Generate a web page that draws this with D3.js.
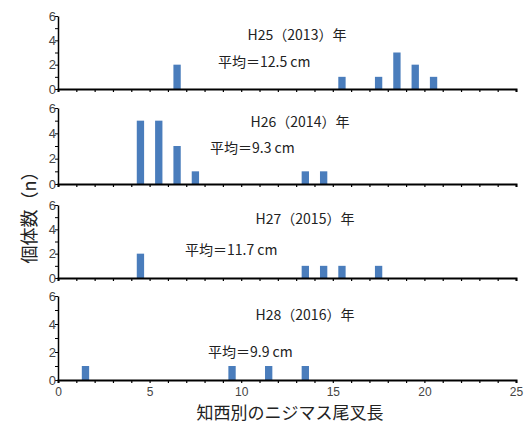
<!DOCTYPE html>
<html><head><meta charset="utf-8">
<script src="https://cdn.jsdelivr.net/npm/d3@7"></script>
<style>body{margin:0;background:#fff;} svg{display:block;font-family:"Noto Sans CJK JP","Noto Sans",sans-serif;}</style>
</head><body>
<svg id="c" width="526" height="423"></svg>
<script>
const years = ["H25（2013）年","H26（2014）年","H27（2015）年","H28（2016）年"];
const means = ["平均＝12.5 cm","平均＝9.3 cm","平均＝11.7 cm","平均＝9.9 cm"];
const lengths2013 = [6.5,15.5,17.5,18.5,19.5,20.5];
const counts2013  = [2,1,1,3,2,1];
const lengths2014 = [4.5,5.5,6.5,7.5,13.5,14.5];
const counts2014  = [5,5,3,1,1,1];
const lengths2015 = [4.5,13.5,14.5,15.5,17.5];
const counts2015  = [2,1,1,1,1];
const lengths2016 = [1.5,9.5,11.5,13.5];
const counts2016  = [1,1,1,1];
const xTicks = [0,5,10,15,20,25];
const yTicks = [0,2,4,6];
const xLabel = "知西別のニジマス尾叉長";
const yLabel = "個体数（n）";

const series = [[lengths2013,counts2013],[lengths2014,counts2014],[lengths2015,counts2015],[lengths2016,counts2016]];
const panels = [
  {top:16,bottom:89, tx:297, ty:40, mx:218, my:67},
  {top:108,bottom:184, tx:300, ty:127, mx:210, my:153},
  {top:205,bottom:278, tx:305, ty:224, mx:185, my:255},
  {top:296,bottom:380, tx:305, ty:320, mx:208, my:357}
];
const svg = d3.select("#c");
const x = d3.scaleLinear().domain([0,25]).range([58,516]);
const barW = x(0.4)-x(0);
const txtCol = "#444";

panels.forEach((p,i)=>{
  const y = d3.scaleLinear().domain([0,6]).range([p.bottom,p.top]);
  const g = svg.append("g");
  const [ls,cs] = series[i];
  g.selectAll("rect").data(ls.map((l,j)=>({l,c:cs[j]}))).join("rect")
    .attr("x",d=>x(d.l)-barW/2).attr("width",barW)
    .attr("y",d=>y(d.c)).attr("height",d=>y(0)-y(d.c))
    .attr("fill","#4a7dbc");
  const xa = g.append("g").attr("transform",`translate(0,${p.bottom})`)
    .call(d3.axisBottom(x).ticks(25).tickSize(3).tickFormat(i===3? (d=> xTicks.includes(d)? d : "") : ""));
  xa.select(".domain").attr("stroke","#000").attr("stroke-width",2);
  xa.selectAll(".tick line").attr("stroke","#000").attr("stroke-width",1.2);
  xa.selectAll(".tick text").attr("fill",txtCol).attr("font-size",12).attr("y",7).attr("font-family","Liberation Sans, Arial, sans-serif");
  const ya = g.append("g").attr("transform",`translate(58,0)`)
    .call(d3.axisLeft(y).tickValues([0,1,2,3,4,5,6]).tickSize(3).tickSizeOuter(0).tickFormat(d=> yTicks.includes(d)? d : ""));
  ya.select(".domain").attr("stroke","#000").attr("stroke-width",1.5);
  ya.selectAll(".tick line").attr("stroke","#000").attr("stroke-width",1);
  ya.selectAll(".tick text").attr("fill",txtCol).attr("font-size",13).attr("x",-2).attr("font-family","Liberation Sans, Arial, sans-serif");
  g.append("text").attr("x",p.tx).attr("y",p.ty).attr("text-anchor","middle")
    .attr("font-size",14).attr("fill","#222").text(years[i]);
  g.append("text").attr("x",p.mx).attr("y",p.my)
    .attr("font-size",14).attr("fill","#222").text(means[i]);
});
svg.append("text").attr("x",290).attr("y",419).attr("text-anchor","middle")
  .attr("font-size",17).attr("fill","#222").text(xLabel);
svg.append("text").attr("transform","translate(36,213) rotate(-90)").attr("text-anchor","middle")
  .attr("font-size",18).attr("fill","#222").text(yLabel);
</script>
</body></html>
